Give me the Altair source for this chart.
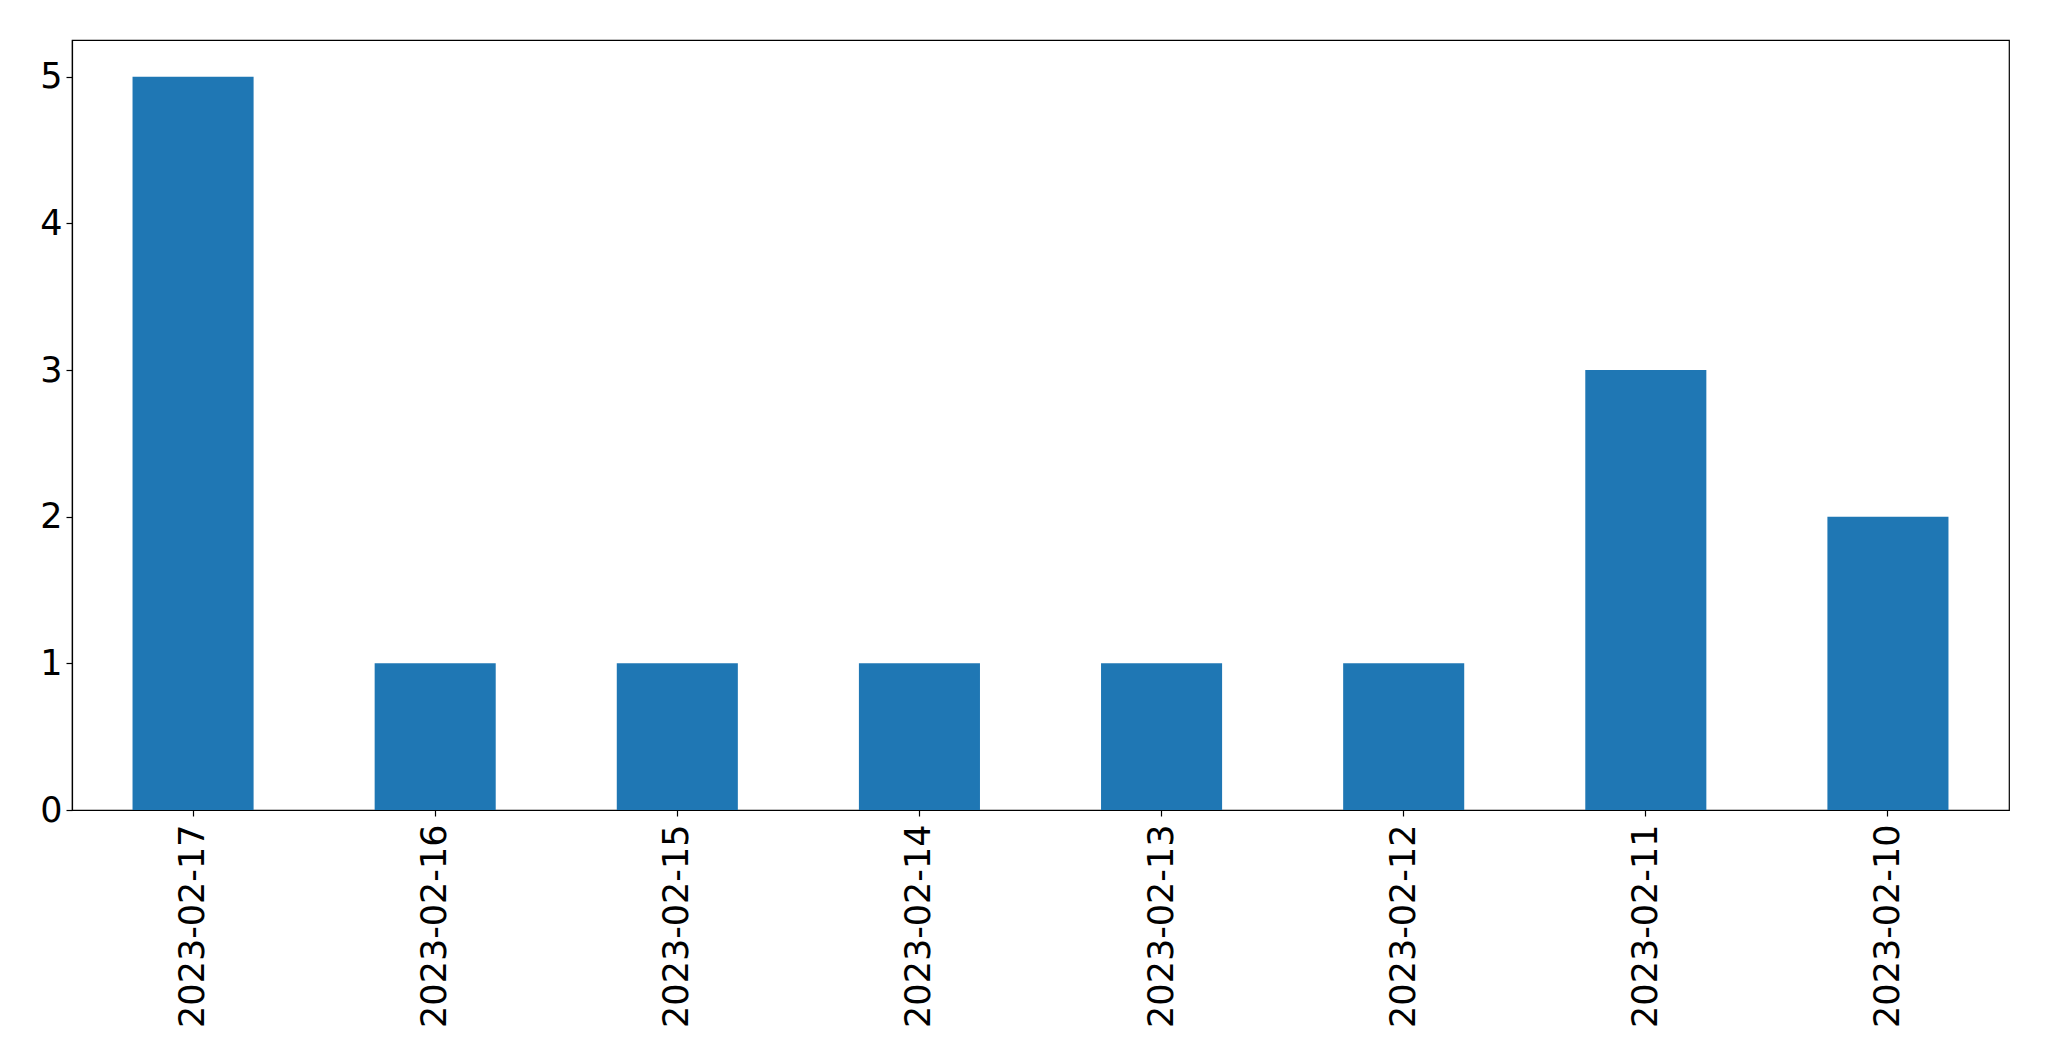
import altair as alt
import pandas as pd

dates = ["2023-02-17", "2023-02-16", "2023-02-15", "2023-02-14",
         "2023-02-13", "2023-02-12", "2023-02-11", "2023-02-10"]
counts = [5, 1, 1, 1, 1, 1, 3, 2]

df = pd.DataFrame({"date": dates, "count": counts})

FONT = "DejaVu Sans"

chart = alt.Chart(df).mark_bar(color="#1f77b4").encode(
    x=alt.X("date:N", sort=dates, title=None,
            scale=alt.Scale(paddingInner=0.5, paddingOuter=0.25),
            axis=alt.Axis(labelAngle=-90, labelFontSize=35, labelFont=FONT,
                          labelColor="black", tickColor="black", tickSize=6,
                          labelPadding=8, labelLimit=1000,
                          domainColor="black", grid=False)),
    y=alt.Y("count:Q", title=None,
            scale=alt.Scale(domain=[0, 5.25], nice=False, zero=True),
            axis=alt.Axis(values=[0, 1, 2, 3, 4, 5], format="d",
                          labelFontSize=35, labelFont=FONT, labelColor="black",
                          tickColor="black", tickSize=6, labelPadding=4,
                          domainColor="black", grid=False)),
).properties(
    width=1937,
    height=770,
    padding={"left": 64, "top": 32, "right": 30, "bottom": 240},
    autosize=alt.AutoSizeParams(type="none"),
).configure_view(
    stroke="black", strokeWidth=1.2
).configure_axis(
    domainWidth=1.2, tickWidth=1.2
)

chart.save("out.html", embed_options={"renderer": "svg", "actions": False})
